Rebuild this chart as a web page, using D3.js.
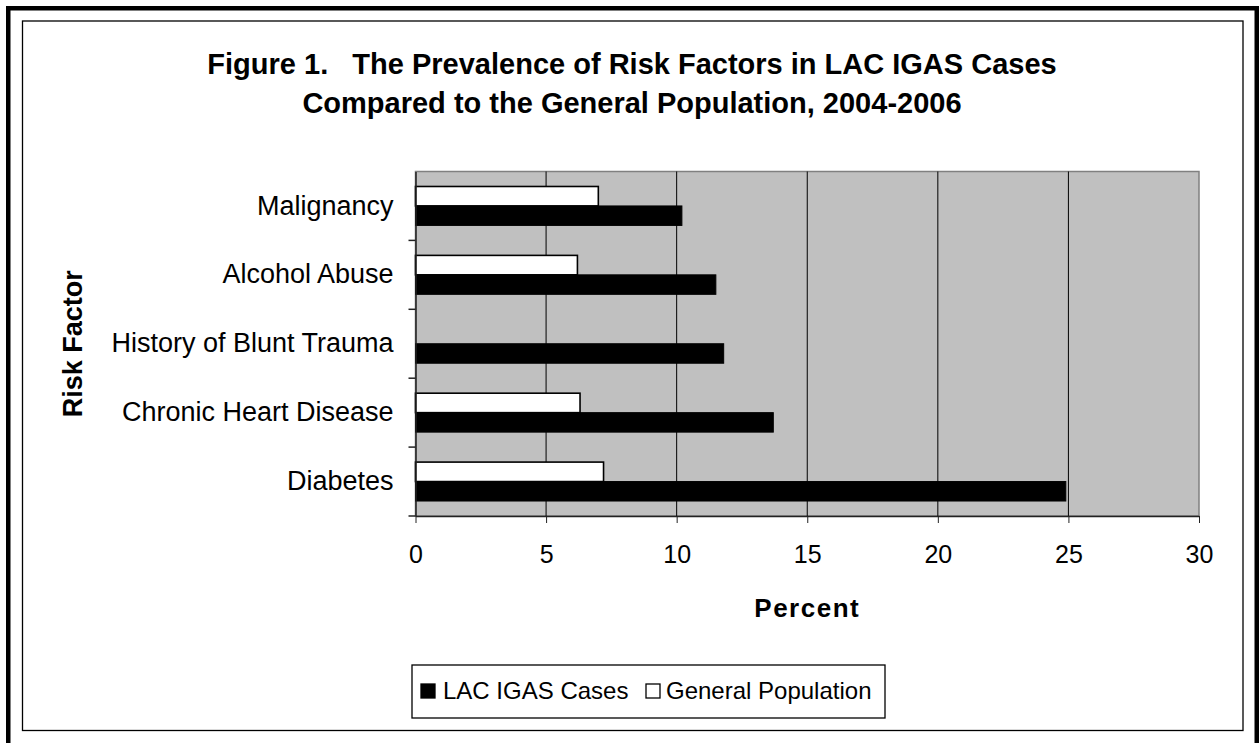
<!DOCTYPE html>
<html>
<head>
<meta charset="utf-8">
<script src="https://cdn.jsdelivr.net/npm/d3@7"></script>
<style>
	body { margin: 0; background: #fff; }
	text { font-family: Arial, "Liberation Sans", sans-serif; }
	text.title { white-space: pre; }
</style>
</head>
<body>
<script>
(function(){
	// data
	var categories = ["Malignancy", "Alcohol Abuse", "History of Blunt Trauma", "Chronic Heart Disease", "Diabetes"];
	var seriesNames = ["General Population", "LAC IGAS Cases"];
	var lacCases = [10.2, 11.5, 11.8, 13.7, 24.9];
	var generalPop = [7.0, 6.2, null, 6.3, 7.2];
	var xTicks = [0, 5, 10, 15, 20, 25, 30];
	var titleLines = ["Figure 1.   The Prevalence of Risk Factors in LAC IGAS Cases",
		"Compared to the General Population, 2004-2006"];

	var W = 1259, H = 743;
	var plot = {left: 415.5, right: 1199, top: 171.5, bottom: 516};

	var svg = d3.select("body")
			.append("svg")
			.attr("width", W)
			.attr("height", H);

	// frames
	svg.append("rect")
			.attr("x", 8.25).attr("y", 8.25)
			.attr("width", 1248.5).attr("height", 800)
			.attr("fill", "none")
			.attr("stroke", "#000")
			.attr("stroke-width", 4.5);
	svg.append("rect")
			.attr("x", 22.5).attr("y", 21)
			.attr("width", 1220.5).attr("height", 709.5)
			.attr("fill", "#fff")
			.attr("stroke", "#000")
			.attr("stroke-width", 1.3);

	// title
	svg.selectAll("text.title")
			.data(titleLines)
			.enter().append("text")
			.attr("class", "title")
			.attr("x", 632)
			.attr("y", function(d, i) { return 74 + i * 39; })
			.attr("text-anchor", "middle")
			.attr("font-size", 29)
			.attr("font-weight", "bold")
			.text(function(d) { return d; });

	var x = d3.scaleLinear().domain([0, 30]).range([plot.left, plot.right]);
	var y = d3.scaleBand().domain(categories).range([plot.top, plot.bottom]);
	var ys = d3.scaleBand().domain(seriesNames).range([0, y.bandwidth()]).paddingOuter(0.77);

	// plot area
	svg.append("rect")
			.attr("x", plot.left).attr("y", plot.top)
			.attr("width", plot.right - plot.left)
			.attr("height", plot.bottom - plot.top)
			.attr("fill", "#c0c0c0")
			.attr("stroke", "#808080")
			.attr("stroke-width", 1.5);

	svg.selectAll("line.grid")
			.data(xTicks.filter(function(t) { return t > 0 && t < 30; }))
			.enter().append("line")
			.attr("class", "grid")
			.attr("x1", function(d) { return x(d); })
			.attr("x2", function(d) { return x(d); })
			.attr("y1", plot.top)
			.attr("y2", plot.bottom)
			.attr("stroke", "#000")
			.attr("stroke-width", 1);

	// bars
	var rows = categories.map(function(c, i) {
		return {cat: c, lac: lacCases[i], gen: generalPop[i]};
	});
	var g = svg.selectAll("g.cat")
			.data(rows)
			.enter().append("g")
			.attr("class", "cat")
			.attr("transform", function(d) { return "translate(0," + y(d.cat) + ")"; });

	g.filter(function(d) { return d.gen != null; })
			.append("rect")
			.attr("x", x(0))
			.attr("y", ys("General Population"))
			.attr("width", function(d) { return x(d.gen) - x(0); })
			.attr("height", ys.bandwidth())
			.attr("fill", "#fff")
			.attr("stroke", "#000")
			.attr("stroke-width", 1.6);

	g.append("rect")
			.attr("x", x(0))
			.attr("y", ys("LAC IGAS Cases"))
			.attr("width", function(d) { return x(d.lac) - x(0); })
			.attr("height", ys.bandwidth())
			.attr("fill", "#000")
			.attr("stroke", "#000")
			.attr("stroke-width", 1);

	// axes
	var xAxis = svg.append("g")
			.attr("transform", "translate(0," + plot.bottom + ")")
			.call(d3.axisBottom(x).tickValues(xTicks).tickSize(7).tickSizeOuter(0).tickPadding(22));
	xAxis.select(".domain").attr("stroke", "#222").attr("stroke-width", 1.5);
	xAxis.selectAll(".tick line").attr("stroke", "#222");
	xAxis.selectAll("text")
			.attr("font-size", 25)
			.attr("fill", "#000")
			.attr("font-family", "Arial, 'Liberation Sans', sans-serif");

	var yAxis = svg.append("g")
			.attr("transform", "translate(" + plot.left + ",0)")
			.call(d3.axisLeft(y).tickSize(0).tickPadding(22));
	yAxis.select(".domain").attr("stroke", "#222").attr("stroke-width", 1.5);
	yAxis.selectAll("text")
			.attr("font-size", 27)
			.attr("fill", "#000")
			.attr("font-family", "Arial, 'Liberation Sans', sans-serif");
	// category separators on the y axis
	yAxis.selectAll("line.sep")
			.data(categories.slice(1).concat(["end"]))
			.enter().append("line")
			.attr("class", "sep")
			.attr("x1", -7).attr("x2", 0)
			.attr("y1", function(d) { return d === "end" ? plot.bottom : y(d); })
			.attr("y2", function(d) { return d === "end" ? plot.bottom : y(d); })
			.attr("stroke", "#222")
			.attr("stroke-width", 1.5);

	// axis titles
	svg.append("text")
			.attr("x", (plot.left + plot.right) / 2)
			.attr("y", 617)
			.attr("text-anchor", "middle")
			.attr("font-size", 26)
			.attr("font-weight", "bold")
			.attr("letter-spacing", 1.5)
			.text("Percent");

	svg.append("text")
			.attr("transform", "translate(82," + ((plot.top + plot.bottom) / 2) + ") rotate(-90)")
			.attr("text-anchor", "middle")
			.attr("font-size", 27)
			.attr("font-weight", "bold")
			.text("Risk Factor");

	// legend
	var legend = svg.append("g");
	legend.append("rect")
			.attr("x", 412).attr("y", 665)
			.attr("width", 473).attr("height", 53)
			.attr("fill", "#fff")
			.attr("stroke", "#000")
			.attr("stroke-width", 1.3);
	var items = [
		{name: "LAC IGAS Cases", fill: "#000", sx: 421, tx: 443},
		{name: "General Population", fill: "#fff", sx: 646, tx: 666}
	];
	legend.selectAll("rect.sw")
			.data(items)
			.enter().append("rect")
			.attr("class", "sw")
			.attr("x", function(d) { return d.sx; })
			.attr("y", 684)
			.attr("width", 14).attr("height", 14)
			.attr("fill", function(d) { return d.fill; })
			.attr("stroke", "#000")
			.attr("stroke-width", 1.3);
	legend.selectAll("text.lg")
			.data(items)
			.enter().append("text")
			.attr("class", "lg")
			.attr("x", function(d) { return d.tx; })
			.attr("y", 699)
			.attr("font-size", 24)
			.text(function(d) { return d.name; });
})();
</script>
</body>
</html>
